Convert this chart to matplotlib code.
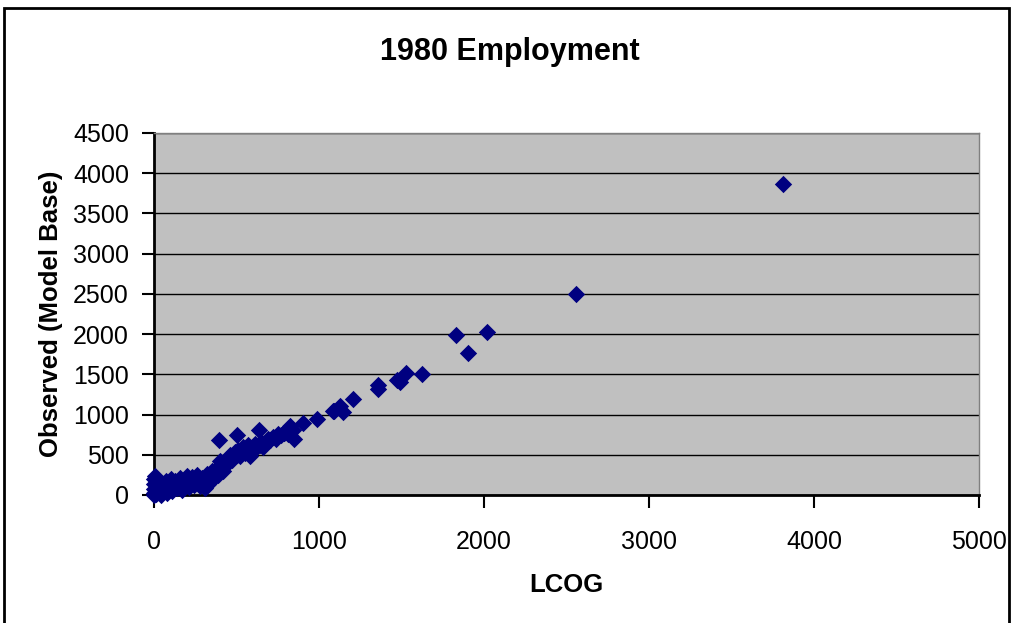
import numpy as np
import matplotlib.pyplot as plt
from matplotlib.patches import Rectangle

plt.rcParams['font.family'] = ['Liberation Sans', 'DejaVu Sans']

# LCOG model estimate vs observed employment, by zone
lcog = [
    0, 0, 0, 0, 0, 5, 10, 15, 20, 25, 30, 40, 45, 50, 60, 70, 75, 80, 90, 100,
    105, 110, 120, 130, 140, 150, 160, 170, 180, 190, 200, 210, 220, 230, 240,
    250, 260, 270, 280, 290, 300, 310, 320, 330, 340, 350, 360, 370, 380, 390,
    400, 410, 420, 430, 440, 450, 460, 470, 480, 490, 500, 510, 520, 530, 540,
    550, 560, 570, 580, 590, 600, 610, 620, 640, 650, 660, 680, 690, 700, 720,
    740, 750, 770, 790, 800, 810, 840,
    395, 500, 635, 850, 785, 825, 905, 985, 1085, 1090, 1145, 1130, 1205,
    1355, 1355, 1470, 1490, 1530, 1625, 1830, 1905, 2020, 2555, 3815,
]
observed = [
    0, 30, 80, 140, 200, 230, 10, 60, 110, 170, 40, 90, 0, 140, 60, 110, 180, 20, 80, 140,
    200, 50, 110, 170, 90, 140, 210, 60, 120, 180, 230, 100, 160, 220, 130,
    190, 250, 150, 110, 210, 160, 90, 260, 140, 220, 300, 200, 270, 330, 250,
    420, 350, 300, 380, 450, 400, 500, 430, 470, 540, 500, 560, 480, 540, 600,
    520, 580, 620, 480, 560, 600, 640, 580, 620, 660, 600, 650, 700, 680, 720,
    700, 760, 740, 770, 790, 760, 810,
    680, 740, 810, 700, 765, 860, 893, 945, 1045, 1050, 1030, 1110, 1195,
    1370, 1320, 1430, 1410, 1515, 1510, 1985, 1765, 2025, 2500, 3870,
]

x_ticks = [0, 1000, 2000, 3000, 4000, 5000]
y_ticks = [0, 500, 1000, 1500, 2000, 2500, 3000, 3500, 4000, 4500]

fig = plt.figure(figsize=(10.13, 6.23), dpi=100)
ax = fig.add_axes([154/1013, 1-495/623, 825/1013, 362/623])
ax.set_facecolor('#C0C0C0')

ax.scatter(lcog, observed, marker='D', s=78, color='#000080', linewidths=0,
           zorder=3, clip_on=False)

ax.set_xlim(0, 5000)
ax.set_ylim(0, 4500)
ax.set_xticks(x_ticks)
ax.set_yticks(y_ticks)
ax.yaxis.grid(True, color='black', linewidth=1)
ax.set_axisbelow(True)

ax.tick_params(axis='both', labelsize=18, direction='out', length=9,
               width=1.5, color='black')
ax.tick_params(axis='x', pad=16)
ax.tick_params(axis='y', pad=9)

for side in ('left', 'bottom'):
    ax.spines[side].set_linewidth(2)
    ax.spines[side].set_color('black')
for side in ('top', 'right'):
    ax.spines[side].set_linewidth(1)
    ax.spines[side].set_color('#808080')

ax.set_xlabel('LCOG', fontsize=18.5, fontweight='bold', labelpad=14)
ax.set_ylabel('Observed (Model Base)', fontsize=18.5, fontweight='bold',
              labelpad=7)
fig.text(510/1013, 1-52/623, '1980 Employment', fontsize=22,
         fontweight='bold', ha='center', va='center')

# chart border
fig.patches.append(Rectangle((4/1013, -0.05), 1005/1013, 1.05-8/623,
                             transform=fig.transFigure, fill=False,
                             edgecolor='black', linewidth=2))

fig.savefig('out.png', dpi=100)
